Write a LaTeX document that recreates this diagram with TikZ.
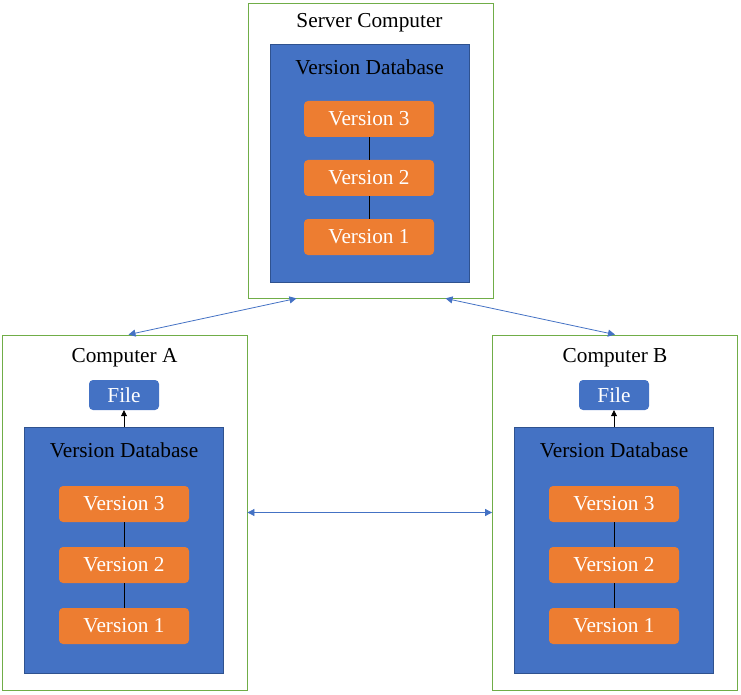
\documentclass[tikz,border=0pt]{standalone}
\usepackage{fontspec}
\setmainfont{Liberation Serif}
\newfontfamily\timesfont{Liberation Serif}
\usetikzlibrary{arrows.meta, positioning, calc}
\definecolor{dbblue}{HTML}{4472C4}
\definecolor{dbedge}{HTML}{2F528F}
\definecolor{verorange}{HTML}{ED7D31}
\definecolor{boxgreen}{HTML}{70AD47}

\begin{document}
\begin{tikzpicture}[x=1pt, y=-1pt, font=\timesfont\fontsize{21.3}{23}\selectfont,
    machine/.style={draw=boxgreen, line width=0.8pt, minimum width=245pt, inner sep=0pt},
    database/.style={draw=dbedge, fill=dbblue, line width=0.8pt, minimum width=199pt, inner sep=0pt},
    version/.style={fill=verorange, text=white, rounded corners=4pt, minimum width=130pt, minimum height=36pt, inner sep=0pt},
    filebox/.style={fill=dbblue, text=white, rounded corners=4pt, minimum width=70pt, minimum height=30pt, inner sep=0pt},
    sync/.style={{Triangle[length=7pt, width=7pt]}-{Triangle[length=7pt, width=7pt]}, dbblue, line width=0.8pt},
    link/.style={black, line width=0.6pt}]
    \useasboundingbox (0,0) rectangle (741,695);

    % Machines
    \node[machine, minimum height=295pt] (server) at (370.5,150.5) {};
    \node[machine, minimum height=355pt] (compa) at (124.5,512.5) {};
    \node[machine, minimum height=355pt] (compb) at (615,512.5) {};
    \node at ($(server.north)+(-1,20)$) {Server Computer};
    \node at ($(compa.north)+(0,23)$) {Computer A};
    \node at ($(compb.north)+(0,23)$) {Computer B};

    % Version databases
    \node[database, minimum height=238pt] (serverdb) at (369.5,163) {};
    \node[database, minimum height=246pt] (compadb) at (124,550) {};
    \node[database, minimum height=246pt] (compbdb) at (614,550) {};
    \node at ($(serverdb.north)+(0,24)$) {Version Database};
    \node at ($(compadb.north)+(0,24)$) {Version Database};
    \node at ($(compbdb.north)+(0,24)$) {Version Database};

    % Versions
    \node[version] (sv3) at (369,119) {Version 3};
    \node[version] (sv2) at (369,178) {Version 2};
    \node[version] (sv1) at (369,237) {Version 1};
    \node[version] (av3) at (124,504) {Version 3};
    \node[version] (av2) at (124,565) {Version 2};
    \node[version] (av1) at (124,626) {Version 1};
    \node[version] (bv3) at (614,504) {Version 3};
    \node[version] (bv2) at (614,565) {Version 2};
    \node[version] (bv1) at (614,626) {Version 1};
    \foreach \m in {s, a, b} {
        \draw[link] (\m v3.south) -- (\m v2.north);
        \draw[link] (\m v2.south) -- (\m v1.north);
    }

    % Working files
    \node[filebox] (filea) at (124,395) {File};
    \node[filebox] (fileb) at (614,395) {File};
    \draw[link, -{Triangle[length=6pt, width=6pt]}] (compadb.north) -- (filea.south);
    \draw[link, -{Triangle[length=6pt, width=6pt]}] (compbdb.north) -- (fileb.south);

    % Synchronisation
    \draw[sync] ([xshift=4pt]compa.north) -- ([xshift=-74pt]server.south);
    \draw[sync] ([xshift=75pt]server.south) -- (compb.north);
    \draw[sync] (compa.east) -- (compb.west);
\end{tikzpicture}
\end{document}
